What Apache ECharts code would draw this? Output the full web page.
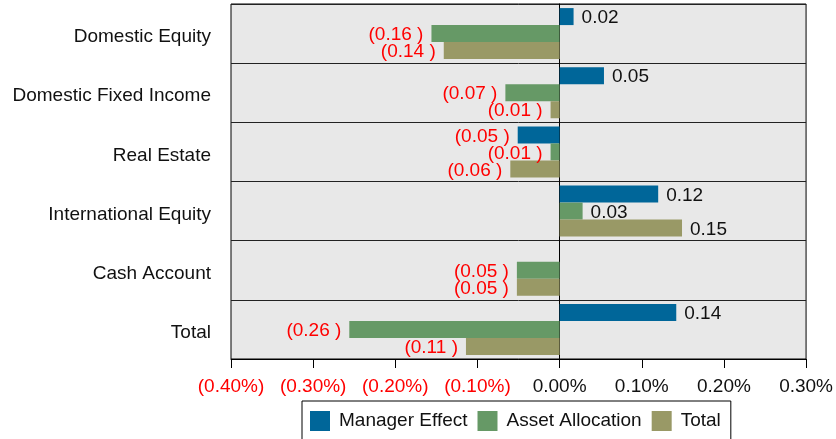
<!DOCTYPE html>
<html>
<head>
<meta charset="utf-8">
<script src="https://cdn.jsdelivr.net/npm/echarts@6/dist/echarts.min.js"></script>
<style>html,body{margin:0;padding:0;background:#fff;}#c{width:836px;height:439px;}</style>
</head>
<body>
<div id="c"></div>
<script>
const categories = ['Domestic Equity', 'Domestic Fixed Income', 'Real Estate', 'International Equity', 'Cash Account', 'Total'];
const seriesNames = ['Manager Effect', 'Asset Allocation', 'Total'];
const managerEffect = [0.017, 0.054, -0.051, 0.12, 0, 0.142];
const assetAllocation = [-0.156, -0.066, -0.011, 0.028, -0.052, -0.256];
const totalEffect = [-0.141, -0.011, -0.06, 0.149, -0.052, -0.114];
const colors = ['#006699', '#669966', '#999966'];
const xMin = -0.4, xMax = 0.3, xStep = 0.1;

const FONT = "'Liberation Sans', Arial, sans-serif";
const RED = '#ff0000';

function fmtLabel(v) {
  if (v === 0) return '';
  const s = Math.abs(v).toFixed(2);
  return v < 0 ? '(' + s + ' )' : s;
}
function fmtAxis(v) {
  const r = Math.round(v * 100) / 100;
  const s = Math.abs(r).toFixed(2) + '%';
  return r < 0 ? '(' + s + ')' : s;
}

function makeSeries(name, values, color) {
  return {
    name: name,
    type: 'bar',
    barWidth: 17,
    barGap: '0%',
    itemStyle: { color: color },
    data: values.map(v => ({
      value: v,
      label: {
        show: v !== 0,
        position: v < 0 ? 'left' : 'right',
        distance: 8,
        offset: [0, 1.5],
        color: v < 0 ? RED : '#111',
        fontSize: 19,
        fontFamily: FONT,
        formatter: p => fmtLabel(p.value)
      }
    }))
  };
}

const chart = echarts.init(document.getElementById('c'), null, { renderer: 'canvas' });
chart.setOption({
  animation: false,
  backgroundColor: '#ffffff',
  grid: {
    left: 231, right: 29, top: 4, bottom: 80,
    show: true, backgroundColor: '#e8e8e8', borderColor: '#000', borderWidth: 1
  },
  legend: {
    data: seriesNames,
    left: 302, top: 401,
    orient: 'horizontal',
    icon: 'rect',
    itemWidth: 20, itemHeight: 20, itemGap: 10,
    padding: [10, 10, 10, 8],
    borderColor: '#000', borderWidth: 1,
    textStyle: { fontSize: 19, fontFamily: FONT, color: '#111', padding: [2, 0, 0, 4] }
  },
  xAxis: {
    type: 'value',
    min: xMin, max: xMax, interval: xStep,
    axisLine: { show: true, onZero: false, lineStyle: { color: '#000', width: 1 } },
    axisTick: { show: true, length: 9, lineStyle: { color: '#000' } },
    splitLine: { show: false },
    axisLabel: {
      fontSize: 19, fontFamily: FONT, margin: 18,
      formatter: fmtAxis,
      color: v => (Math.round(v * 100) < 0 ? RED : '#111')
    }
  },
  yAxis: {
    type: 'category',
    data: categories,
    inverse: true,
    axisLine: { show: true, onZero: true, lineStyle: { color: '#000', width: 1 } },
    axisTick: { show: false },
    splitLine: { show: true, lineStyle: { color: '#222', width: 1 } },
    axisLabel: {
      margin: 20,
      formatter: v => '{c|' + v + '}',
      rich: { c: { fontSize: 19, fontFamily: FONT, color: '#111', padding: [7, 0, 0, 0] } }
    }
  },
  series: [
    makeSeries(seriesNames[0], managerEffect, colors[0]),
    makeSeries(seriesNames[1], assetAllocation, colors[1]),
    makeSeries(seriesNames[2], totalEffect, colors[2])
  ]
});
</script>
</body>
</html>
